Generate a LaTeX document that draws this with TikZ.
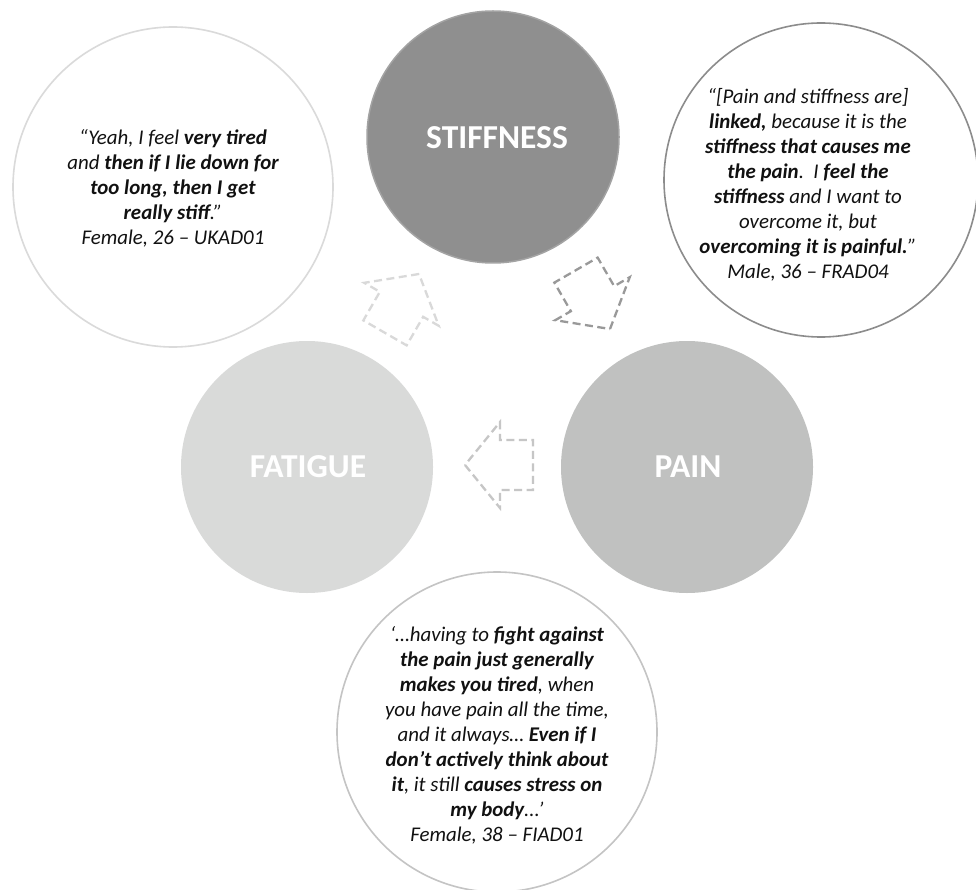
\documentclass[tikz,border=0pt]{standalone}
\usepackage{fontspec}
\setmainfont{Carlito}
\definecolor{stiffc}{HTML}{8F8F8F}
\definecolor{stiffrim}{HTML}{A3A3A3}
\definecolor{painc}{HTML}{C0C1C0}
\definecolor{fatc}{HTML}{D9DAD9}
\definecolor{qa}{HTML}{DADADA}
\definecolor{qb}{HTML}{8C8C8C}
\definecolor{qc}{HTML}{C4C4C4}
\definecolor{arA}{HTML}{D9D9D9}
\definecolor{arB}{HTML}{999999}
\definecolor{arC}{HTML}{C6C6C6}
\definecolor{txt}{HTML}{111111}
\tikzset{
  bigcirc/.style={circle, inner sep=0pt, minimum size=252pt},
  biglabel/.style={text=white, inner sep=0pt, font=\fontsize{33.5}{38}\selectfont\bfseries},
  quotecirc/.style={circle, inner sep=0pt, minimum size=320pt, line width=1.6pt, fill=white},
  quotetext/.style={align=center, text=txt, inner sep=0pt,
    font=\fontsize{20.9}{25}\selectfont\itshape},
  blockarrow/.style={line width=2.3pt, dash pattern=on 8pt off 4.5pt, line join=miter}
}
\newcommand{\cyclearrow}[4]{%
  \begin{scope}[shift={#1}, rotate=#2]
    \draw[blockarrow, #3] (0,0) -- (-35,-43) -- (-35,-25) -- (-68,-25) -- (-68,25) -- (-35,25) -- (-35,43) -- cycle;
    \coordinate (#4) at (-34,0);
  \end{scope}}
\begin{document}
\begin{tikzpicture}[x=1pt,y=-1pt]
\clip (0,0) rectangle (976,890);
\fill[white] (0,0) rectangle (976,890);
% quote circles
\node[quotecirc, draw=qa] (qfat) at (173,187) {};
\node[quotecirc, draw=qb, minimum size=314pt] (qstiff) at (821,180) {};
\node[quotecirc, draw=qc] (qpain) at (497,732) {};
% main circles
\node[bigcirc, fill=stiffc, draw=stiffrim, line width=1.5pt] (stiff) at (493,137) {};
\node[bigcirc, fill=painc] (pain) at (687,467) {};
\node[bigcirc, fill=fatc] (fat) at (307,467) {};
\node[biglabel] (lstiff) at (497,138) {STIFFNESS};
\node[biglabel] (lpain) at (688,467) {PAIN};
\node[biglabel] (lfat) at (308,467) {FATIGUE};
% arrows
\cyclearrow{(419,274)}{60}{arA}{a1}
\cyclearrow{(610,329)}{-60}{arB}{a2}
\cyclearrow{(465,465)}{180}{arC}{a3}
% quotes
\node[quotetext] (tfat) at (173,188) {%
“Yeah, I feel \textbf{very tired}\\
and \textbf{then if I lie down for}\\
\textbf{too long, then I get}\\
\textbf{really stiff}.”\\
Female, 26 – UKAD01};
\node[quotetext] (tstiff) at (808,185) {%
“[Pain and stiffness are]\\
\textbf{linked,} because it is the\\
\textbf{stiffness that causes me}\\
\textbf{the pain}.\ \ I \textbf{feel the}\\
\textbf{stiffness} and I want to\\
overcome it, but\\
\textbf{overcoming it is painful.}”\\
Male, 36 – FRAD04};
\node[quotetext] (tpain) at (497,735) {%
‘…having to \textbf{fight against}\\
\textbf{the pain just generally}\\
\textbf{makes you tired}, when\\
you have pain all the time,\\
and it always… \textbf{Even if I}\\
\textbf{don’t actively think about}\\
\textbf{it}, it still \textbf{causes stress on}\\
\textbf{my body}...’\\
Female, 38 – FIAD01};
\end{tikzpicture}
\end{document}
